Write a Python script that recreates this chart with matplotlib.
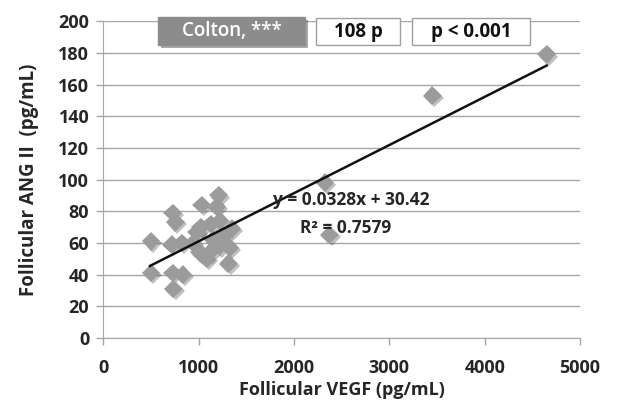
import numpy as np
import matplotlib.pyplot as plt
import matplotlib.patheffects as pe
from matplotlib.patches import FancyBboxPatch

# data
vegf = [500, 500, 730, 755, 719, 824, 730, 834, 737, 1034, 1209, 1188,
        1022, 1127, 1226, 1349, 1010, 1120, 1220, 1330, 1085, 1313, 1150,
        1250, 940, 980, 2325, 2372, 3450, 4650]
ang2 = [61, 41, 79, 73, 59, 60, 41, 40, 31, 84, 90, 83,
        70, 72, 74, 69, 54, 54, 58, 57, 50, 47, 62, 64, 60, 67, 98, 65, 153, 179]
trend_x = [490, 4650]
trend_y = [45.5, 172]

xticks = [0, 1000, 2000, 3000, 4000, 5000]
yticks = list(range(0, 201, 20))

plt.rcParams['font.family'] = ['Open Sans', 'DejaVu Sans']
txt = '#262626'
grey = '#a6a6a6'

fig = plt.figure(figsize=(6.41, 4.07), dpi=100)
ax = fig.add_axes([0.161, 0.1695, 0.744, 0.7785])

ax.plot(vegf, ang2, linestyle='none', marker='D', markersize=9.5, color='#9b9b9b',
        markeredgewidth=0, zorder=3,
        path_effects=[pe.SimplePatchShadow(offset=(1.5, -1.5), alpha=0.3), pe.Normal()])
ax.plot(trend_x, trend_y, color='#111111', linewidth=1.8, zorder=4)

ax.set_xlim(0, 5000)
ax.set_ylim(0, 200)
ax.set_xticks(xticks)
ax.set_yticks(yticks)
ax.yaxis.grid(True, color=grey, linewidth=1)
ax.set_axisbelow(True)
for s in ['top', 'right']:
    ax.spines[s].set_visible(False)
for s in ['left', 'bottom']:
    ax.spines[s].set_color(grey)
ax.tick_params(colors=grey, length=5, width=1, labelcolor=txt, labelsize=13)
for lab in ax.get_xticklabels() + ax.get_yticklabels():
    lab.set_fontweight('bold')
ax.tick_params(axis='x', pad=10)
ax.tick_params(axis='y', pad=5)

ax.set_xlabel('Follicular VEGF (pg/mL)', fontsize=13, fontweight='bold', color=txt, labelpad=3)
ax.set_ylabel('Follicular ANG II  (pg/mL)', fontsize=13.5, fontweight='bold', color=txt, labelpad=14)

ax.text(2600, 87, 'y = 0.0328x + 30.42', fontsize=12.5, fontweight='bold', color=txt,
        ha='center', va='center', zorder=5)
ax.text(2540, 69.5, 'R² = 0.7579', fontsize=12.5, fontweight='bold', color=txt,
        ha='center', va='center', zorder=5)

# header boxes (figure pixels)
W, H = 641, 407
def box(x0, x1, y0, y1, label, fc, ec, tc, shadow=False):
    p = FancyBboxPatch((x0 / W, 1 - y1 / H), (x1 - x0) / W, (y1 - y0) / H,
                       boxstyle='square,pad=0', transform=fig.transFigure,
                       facecolor=fc, edgecolor=ec, linewidth=1, zorder=10)
    if shadow:
        p.set_path_effects([pe.SimplePatchShadow(offset=(2, -2), alpha=0.4), pe.Normal()])
    fig.patches.append(p)
    fig.text((x0 + x1) / 2 / W, 1 - (y0 + y1) / 2 / H, label, fontsize=13.5,
             fontweight='bold' if not shadow else 'semibold', color=tc,
             ha='center', va='center', zorder=11)

box(158, 305, 17, 45, 'Colton, ***', '#8c8c8c', '#8c8c8c', 'white', shadow=True)
box(316, 400, 18, 45, '108 p', 'white', '#a0a0a0', '#111111')
box(412, 530, 18, 45, 'p < 0.001', 'white', '#a0a0a0', '#111111')

fig.savefig('out.png', dpi=100)
